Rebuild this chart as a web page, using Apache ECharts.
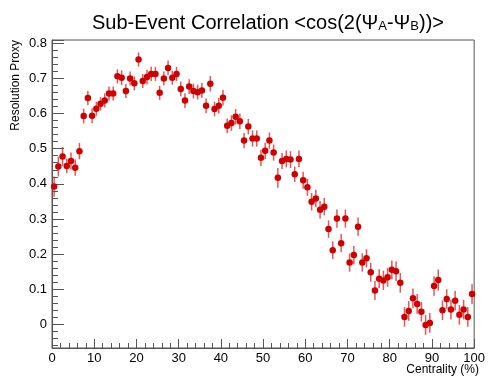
<!DOCTYPE html>
<html>
<head>
<meta charset="utf-8">
<script src="https://cdn.jsdelivr.net/npm/echarts@6/dist/echarts.min.js"></script>
<style>
html,body{margin:0;padding:0;background:#fff;}
#chart{width:488px;height:380px;}
</style>
</head>
<body>
<div id="chart"></div>
<script>
// Bin centres (centrality %)
const centrality = [0.5,1.5,2.5,3.5,4.5,5.5,6.5,7.5,8.5,9.5,10.5,11.5,12.5,13.5,14.5,15.5,16.5,17.5,18.5,19.5,
20.5,21.5,22.5,23.5,24.5,25.5,26.5,27.5,28.5,29.5,30.5,31.5,32.5,33.5,34.5,35.5,36.5,37.5,38.5,39.5,
40.5,41.5,42.5,43.5,44.5,45.5,46.5,47.5,48.5,49.5,50.5,51.5,52.5,53.5,54.5,55.5,56.5,57.5,58.5,59.5,
60.5,61.5,62.5,63.5,64.5,65.5,66.5,67.5,68.5,69.5,70.5,71.5,72.5,73.5,74.5,75.5,76.5,77.5,78.5,79.5,
80.5,81.5,82.5,83.5,84.5,85.5,86.5,87.5,88.5,89.5,90.5,91.5,92.5,93.5,94.5,95.5,96.5,97.5,98.5,99.5];
// Resolution proxy values
const resolution = [0.392,0.449,0.478,0.451,0.465,0.446,0.493,0.593,0.644,0.594,
0.614,0.628,0.637,0.657,0.657,0.706,0.702,0.664,0.700,0.686,
0.754,0.693,0.704,0.713,0.713,0.659,0.700,0.730,0.702,0.713,
0.670,0.637,0.677,0.664,0.661,0.666,0.622,0.685,0.613,0.622,
0.645,0.565,0.573,0.591,0.578,0.523,0.563,0.529,0.529,0.474,
0.494,0.523,0.489,0.417,0.465,0.471,0.469,0.427,0.471,0.410,
0.390,0.349,0.358,0.326,0.335,0.271,0.211,0.301,0.231,0.301,
0.176,0.197,0.278,0.176,0.188,0.148,0.096,0.130,0.125,0.134,
0.155,0.151,0.118,0.021,0.038,0.074,0.058,0.036,-0.002,0.004,
0.109,0.126,0.040,0.072,0.042,0.067,0.027,0.042,0.021,0.086];
// Statistical errors (half-lengths)
const errors = [0.029,0.028,0.027,0.021,0.024,0.023,0.023,0.021,0.020,0.021,
0.020,0.019,0.020,0.020,0.020,0.020,0.021,0.020,0.020,0.020,
0.020,0.020,0.021,0.020,0.020,0.020,0.020,0.021,0.020,0.020,
0.021,0.021,0.021,0.021,0.021,0.021,0.021,0.022,0.021,0.022,
0.022,0.021,0.022,0.022,0.022,0.022,0.022,0.023,0.023,0.023,
0.023,0.023,0.023,0.028,0.023,0.024,0.024,0.022,0.024,0.024,
0.024,0.025,0.025,0.025,0.025,0.025,0.025,0.026,0.026,0.026,
0.026,0.026,0.026,0.026,0.026,0.027,0.027,0.027,0.027,0.027,
0.027,0.028,0.028,0.028,0.028,0.028,0.028,0.028,0.028,0.028,
0.028,0.030,0.028,0.028,0.028,0.028,0.028,0.028,0.028,0.028];
// Axis tick labels
const xTicks = [0,10,20,30,40,50,60,70,80,90,100];
const yTicks = [0,0.1,0.2,0.3,0.4,0.5,0.6,0.7,0.8];
const yRange = [-0.0675, 0.8095];

const points = centrality.map((c, i) => [c, resolution[i], errors[i]]);
const FONT = 'Liberation Sans, Arial, Helvetica, sans-serif';
const AXIS_COLOR = '#555';

const chart = echarts.init(document.getElementById('chart'), null, {renderer: 'canvas'});
chart.setOption({
  animation: false,
  backgroundColor: '#fff',
  title: {
    text: 'Sub-Event Correlation <cos(2(Ψ{sub|A}-Ψ{sub|B}))>',
    left: 87, top: 8,
    textStyle: {
      fontFamily: FONT, fontSize: 20, fontWeight: 'normal', color: '#000', lineHeight: 20,
      rich: { sub: { fontFamily: FONT, fontSize: 13, lineHeight: 13, verticalAlign: 'bottom', color: '#000' } }
    }
  },
  grid: { left: 52, right: 9, top: 40, bottom: 32, show: true, borderColor: AXIS_COLOR, borderWidth: 1, backgroundColor: 'transparent' },
  xAxis: {
    type: 'value', min: 0, max: 100, interval: 10,
    axisLine: { show: true, onZero: false, lineStyle: { color: AXIS_COLOR, width: 1 } },
    axisTick: { show: true, inside: true, length: 9, lineStyle: { color: AXIS_COLOR } },
    minorTick: { show: true, splitNumber: 5, length: 5, lineStyle: { color: AXIS_COLOR } },
    splitLine: { show: false },
    axisLabel: { fontFamily: FONT, fontSize: 13, color: '#000', margin: 4, customValues: xTicks, showMaxLabel: true }
  },
  yAxis: [
    {
      // major ticks every 0.1 (nice interval from splitNumber) + labels
      type: 'value', min: yRange[0], max: yRange[1], splitNumber: 9,
      axisLine: { show: true, onZero: false, lineStyle: { color: AXIS_COLOR, width: 1 } },
      axisTick: { show: true, inside: true, length: 12, lineStyle: { color: AXIS_COLOR } },
      splitLine: { show: false },
      axisLabel: { fontFamily: FONT, fontSize: 13, color: '#000', margin: 5, customValues: yTicks,
        formatter: v => (Math.abs(v) < 1e-9 ? '0' : (+v).toFixed(1)) }
    },
    {
      // minor ticks every 0.02
      type: 'value', min: yRange[0], max: yRange[1], splitNumber: 44, position: 'left',
      axisLine: { show: false, onZero: false },
      axisTick: { show: true, inside: true, length: 6, lineStyle: { color: AXIS_COLOR } },
      splitLine: { show: false },
      axisLabel: { show: false }
    }
  ],
  graphic: [
    { type: 'text', x: 16, y: 40, rotation: Math.PI / 2,
      style: { text: 'Resolution Proxy', fontFamily: FONT, fontSize: 12, fill: '#000', align: 'right', verticalAlign: 'middle' } },
    { type: 'text', x: 479, y: 370,
      style: { text: 'Centrality (%)', fontFamily: FONT, fontSize: 12, fill: '#000', align: 'right', verticalAlign: 'middle' } }
  ],
  series: [
    {
      type: 'custom', z: 2, clip: true,
      data: points,
      encode: { x: 0, y: 1 },
      renderItem: function (params, api) {
        const x = api.value(0), y = api.value(1), e = api.value(2);
        const lo = api.coord([x, y - e]);
        const hi = api.coord([x, y + e]);
        return {
          type: 'line',
          shape: { x1: lo[0], y1: lo[1], x2: hi[0], y2: hi[1] },
          style: { stroke: 'rgba(220,30,30,0.75)', lineWidth: 1.5 }
        };
      }
    },
    {
      type: 'scatter', z: 3,
      data: points.map(p => [p[0], p[1]]),
      symbol: 'circle', symbolSize: 6.5,
      itemStyle: { color: '#d00000', opacity: 1 }
    }
  ]
});
</script>
</body>
</html>
